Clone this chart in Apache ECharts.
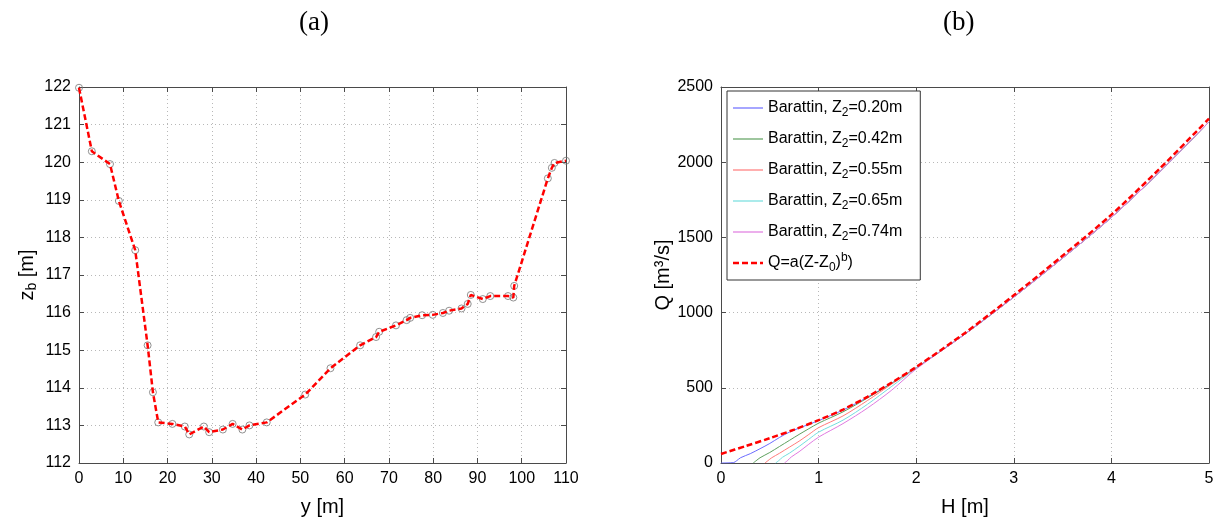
<!DOCTYPE html>
<html><head><meta charset="utf-8">
<script src="https://cdn.jsdelivr.net/npm/echarts@6/dist/echarts.min.js"></script>
<style>html,body{margin:0;padding:0;background:#fff}#c{width:1220px;height:522px}</style>
</head><body><div id="c"></div>
<script>
// ---- panel (a): bed profile ----
const yPos = [0, 2.9, 7.0, 9.0, 12.7, 15.5, 16.7, 17.9, 21.1, 23.9, 24.9, 28.2, 29.4, 32.5, 34.7, 36.9, 38.5, 42.4, 51.1, 56.8, 63.5, 67.1, 67.8, 71.6, 74.0, 74.8, 77.5, 79.9, 82.2, 83.6, 86.4, 87.8, 88.5, 91.2, 92.9, 96.9, 98.1, 98.3, 105.9, 106.8, 107.4, 110];
const zBed = [121.98, 120.29, 119.95, 118.97, 117.66, 115.13, 113.88, 113.08, 113.04, 112.97, 112.76, 112.97, 112.82, 112.89, 113.04, 112.89, 113.0, 113.08, 113.82, 114.52, 115.13, 115.35, 115.49, 115.66, 115.80, 115.86, 115.93, 115.94, 115.99, 116.05, 116.11, 116.23, 116.47, 116.36, 116.44, 116.44, 116.40, 116.71, 119.57, 119.85, 119.98, 120.04];

// ---- panel (b): rating curves ----
const hFit = [0, 0.25, 0.5, 0.75, 1, 1.25, 1.5, 1.75, 2, 2.5, 3, 3.5, 4, 4.5, 5];
const qFit = [60, 112, 165, 222, 285, 355, 440, 535, 638, 865, 1115, 1378, 1651, 1960, 2290];

const hTail = [2.5, 3, 3.5, 4, 4.5, 5];
const qTail = [857, 1103, 1362, 1633, 1938, 2268];

const hZ020 = [0, 0.13, 0.16, 0.2, 0.3, 0.4, 0.5, 0.6, 0.7, 0.8, 1.0, 1.25, 1.5, 1.75, 2];
const qZ020 = [0, 3, 15, 35, 62, 95, 130, 170, 205, 232, 282, 352, 437, 532, 634];
const hZ042 = [0.33, 0.36, 0.4, 0.5, 0.6, 0.7, 0.8, 0.9, 1.0, 1.25, 1.5, 1.75, 2];
const qZ042 = [0, 15, 35, 70, 110, 150, 190, 228, 265, 340, 432, 530, 633];
const hZ055 = [0.45, 0.48, 0.52, 0.6, 0.7, 0.8, 0.9, 1.0, 1.25, 1.5, 1.75, 2];
const qZ055 = [0, 15, 35, 65, 105, 145, 190, 235, 313, 415, 525, 632];
const hZ065 = [0.56, 0.59, 0.63, 0.7, 0.8, 0.9, 1.0, 1.25, 1.5, 1.75, 2];
const qZ065 = [0, 15, 38, 65, 110, 158, 205, 285, 390, 510, 630];
const hZ074 = [0.65, 0.68, 0.72, 0.8, 0.9, 1.0, 1.25, 1.5, 1.75, 2];
const qZ074 = [0, 15, 40, 75, 125, 172, 262, 365, 485, 625];

const seriesNames = ['Barattin, Z_2=0.20m', 'Barattin, Z_2=0.42m', 'Barattin, Z_2=0.55m', 'Barattin, Z_2=0.65m', 'Barattin, Z_2=0.74m'];
const seriesColors = ['#6b6bff', '#5ea05e', '#ff7b7b', '#74dede', '#e07ae0'];
const fitName = 'Q=a(Z-Z_0)^b)';

function zip(a, b) { return a.map((v, i) => [v, b[i]]); }

const FONT = 'Liberation Sans, Arial, sans-serif';
const AX = '#4a4a4a';

function mainAxis(min, max, interval, extra) {
  return Object.assign({
    type: 'value', min, max, interval,
    axisLine: { show: true, onZero: false, lineStyle: { color: AX, width: 1 } },
    axisTick: { show: true, inside: true, length: 5, lineStyle: { color: AX } },
    axisLabel: { color: '#000', fontSize: 16, fontFamily: FONT, formatter: v => String(v) },
    splitLine: { show: true, lineStyle: { color: '#b8b8b8', type: [1, 3], width: 1 } },
    nameTextStyle: { color: '#000', fontSize: 20, fontFamily: FONT,
      rich: { sub: { fontSize: 14, fontFamily: FONT, color: '#000', verticalAlign: 'bottom', padding: [10, 0, 0, 0] } } }
  }, extra || {});
}
function mirrorAxis(min, max, interval, pos, gridIndex) {
  return {
    type: 'value', min, max, interval, position: pos, gridIndex,
    axisLine: { show: true, onZero: false, lineStyle: { color: AX, width: 1 } },
    axisTick: { show: true, inside: true, length: 5, lineStyle: { color: AX } },
    axisLabel: { show: false }, splitLine: { show: false }
  };
}

const barattinTails = (h, q) => zip(h.concat(hTail), q.concat(qTail));
const hList = [hZ020, hZ042, hZ055, hZ065, hZ074];
const qList = [qZ020, qZ042, qZ055, qZ065, qZ074];

const bSeries = seriesNames.map((n, i) => ({
  name: n, type: 'line', xAxisIndex: 2, yAxisIndex: 2,
  data: barattinTails(hList[i], qList[i]),
  showSymbol: false, symbol: 'none', smooth: 0.3,
  lineStyle: { color: seriesColors[i], width: 1 },
  itemStyle: { color: seriesColors[i] }, z: 3
}));

const solidIcon = 'path://M0,0H30V1.2H0Z';
const dashIcon = 'path://M0,0H6V2.6H0Z M9,0H15V2.6H9Z M18,0H24V2.6H18Z M27,0H30V2.6H27Z';

const chart = echarts.init(document.getElementById('c'));
chart.setOption({
  animation: false,
  backgroundColor: '#fff',
  title: [
    { text: '(a)', left: 294, top: 4, textStyle: { fontFamily: 'Liberation Serif, Times New Roman, serif', fontSize: 27, fontWeight: 'normal', color: '#000' } },
    { text: '(b)', left: 938, top: 4, textStyle: { fontFamily: 'Liberation Serif, Times New Roman, serif', fontSize: 27, fontWeight: 'normal', color: '#000' } }
  ],
  grid: [
    { left: 79, right: 654, top: 87, bottom: 53 },
    { left: 721, right: 11, top: 87, bottom: 53 }
  ],
  xAxis: [
    mainAxis(0, 110, 10, { gridIndex: 0, position: 'bottom', name: 'y [m]', nameLocation: 'middle', nameGap: 34 }),
    mirrorAxis(0, 110, 10, 'top', 0),
    mainAxis(0, 5, 1, { gridIndex: 1, position: 'bottom', name: 'H [m]', nameLocation: 'middle', nameGap: 34 }),
    mirrorAxis(0, 5, 1, 'top', 1)
  ],
  yAxis: [
    mainAxis(112, 122, 1, { gridIndex: 0, position: 'left', name: 'z{sub|b} [m]', nameLocation: 'middle', nameGap: 40 }),
    mirrorAxis(112, 122, 1, 'right', 0),
    mainAxis(0, 2500, 500, { gridIndex: 1, position: 'left', name: 'Q [m³/s]', nameLocation: 'middle', nameGap: 36 }),
    mirrorAxis(0, 2500, 500, 'right', 1)
  ],
  legend: {
    data: seriesNames.map(n => ({ name: n, icon: solidIcon })).concat([{ name: fitName, icon: dashIcon }]),
    orient: 'vertical', left: 727, top: 91,
    backgroundColor: '#fff', borderColor: '#333', borderWidth: 1, borderRadius: 0,
    padding: [6, 18, 6, 6], itemWidth: 30, itemHeight: 12, itemGap: 9,
    textStyle: { fontSize: 16, fontFamily: FONT, color: '#000', lineHeight: 22,
      rich: {
        sub: { fontSize: 12, fontFamily: FONT, color: '#000', verticalAlign: 'bottom', lineHeight: 22, padding: [9, 0, 0, 0] },
        sup: { fontSize: 12, fontFamily: FONT, color: '#000', verticalAlign: 'top', lineHeight: 22, padding: [0, 0, 8, 0] }
      } },
    formatter: function (n) {
      return n.replace(/_(\d)/, '{sub|$1}').replace(/\^b\)/, '{sup|b})');
    }
  },
  series: [
    { name: 'points', type: 'scatter', xAxisIndex: 0, yAxisIndex: 0, data: zip(yPos, zBed),
      symbol: 'circle', symbolSize: 7,
      itemStyle: { color: 'rgba(255,255,255,0)', borderColor: '#777', borderWidth: 1 }, z: 2 },
    { name: 'profile', type: 'line', xAxisIndex: 0, yAxisIndex: 0, data: zip(yPos, zBed),
      showSymbol: false, symbol: 'none',
      lineStyle: { color: '#ff0000', width: 2.5, type: [6, 3] }, z: 3 },
    ...bSeries,
    { name: fitName, type: 'line', xAxisIndex: 2, yAxisIndex: 2, data: zip(hFit, qFit),
      showSymbol: false, symbol: 'none', smooth: 0.3,
      lineStyle: { color: '#ff0000', width: 2.5, type: [6, 3] }, itemStyle: { color: '#ff0000' }, z: 4 }
  ]
});
</script>
</body></html>
